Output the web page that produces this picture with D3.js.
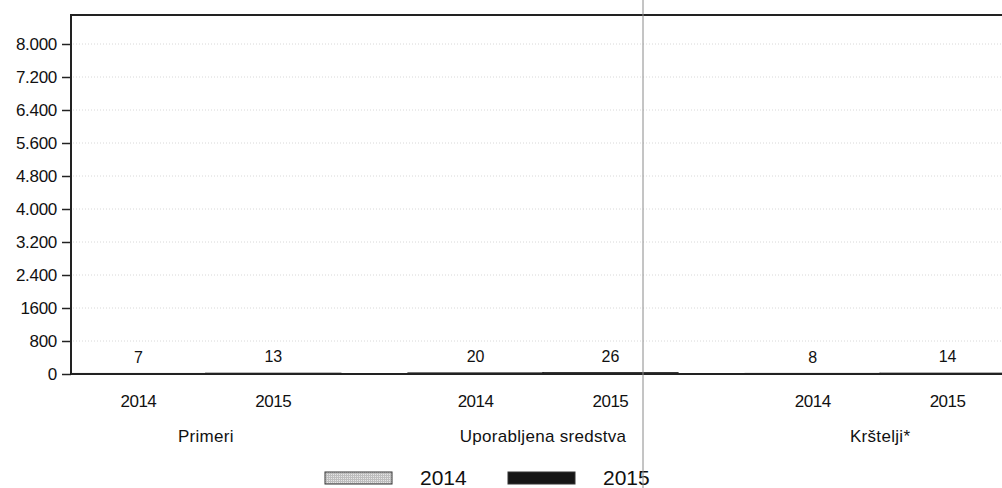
<!DOCTYPE html>
<html>
<head>
<meta charset="utf-8">
<script src="https://cdn.jsdelivr.net/npm/d3@7"></script>
<style>
  body { margin: 0; background: #fff; }
  svg { display: block; font-family: "Liberation Sans", Arial, sans-serif; }
</style>
</head>
<body>
<svg id="chart" width="1002" height="488"></svg>
<script>
// categories and series
const categories = ["Primeri", "Uporabljena sredstva", "Krštelji*"];
const years = ["2014", "2015"];
const values2014 = [7, 20, 8];
const values2015 = [13, 26, 14];

// y axis ticks as printed on the chart
const tickValues = [0, 800, 1600, 2400, 3200, 4000, 4800, 5600, 6400, 7200, 8000];
const tickLabels = ["0", "800", "1600", "2.400", "3.200", "4.000", "4.800", "5.600", "6.400", "7.200", "8.000"];

const colors = { "2014": "#c4c4c4", "2015": "#161616" };

const svg = d3.select("#chart");
const plotLeft = 71, plotTop = 15, plotBottom = 374, plotRight = 1015;

// stipple pattern for the 2014 swatch
const pat = svg.append("defs").append("pattern")
  .attr("id", "stip")
  .attr("width", 2).attr("height", 2)
  .attr("patternUnits", "userSpaceOnUse");
pat.append("rect").attr("width", 2).attr("height", 2).attr("fill", "#bdbdbd");
pat.append("rect").attr("width", 1).attr("height", 1).attr("fill", "#e6e6e6");

// rows for drawing
var rows = [];
categories.forEach(function (c, i) {
  rows.push({ cat: c, year: "2014", value: values2014[i] });
  rows.push({ cat: c, year: "2015", value: values2015[i] });
});

const y = d3.scaleLinear().domain([0, 8000]).range([plotBottom, 44]);
const x0 = d3.scaleBand().domain(categories).range([plotLeft, plotRight])
  .paddingInner(0.2).paddingOuter(0);
const x1 = d3.scaleBand().domain(years).range([0, x0.bandwidth()]);

// dotted grid lines
svg.append("g")
  .selectAll("line")
  .data(tickValues.slice(1))
  .join("line")
  .attr("x1", plotLeft + 2)
  .attr("x2", 1002)
  .attr("y1", d => y(d))
  .attr("y2", d => y(d))
  .attr("stroke", "#d8d8d8")
  .attr("stroke-width", 1)
  .attr("stroke-dasharray", "1,2");

// frame top line
svg.append("line")
  .attr("x1", plotLeft).attr("x2", 1002)
  .attr("y1", plotTop).attr("y2", plotTop)
  .attr("stroke", "#222").attr("stroke-width", 2);

// y axis
const yAxis = d3.axisLeft(y)
  .tickValues(tickValues)
  .tickFormat((d, i) => tickLabels[i])
  .tickSize(9)
  .tickPadding(5);

const ga = svg.append("g")
  .attr("transform", "translate(" + plotLeft + ",0)")
  .call(yAxis);
ga.select(".domain").remove();
ga.selectAll(".tick line").attr("stroke", "#222").attr("stroke-width", 1.5);
ga.selectAll(".tick text")
  .attr("fill", "#111")
  .style("font-size", "17px")
  .style("letter-spacing", "-0.3px")
  .style("font-family", "\"Liberation Sans\", Arial, sans-serif");

svg.append("line")
  .attr("x1", plotLeft).attr("x2", plotLeft)
  .attr("y1", plotTop - 1).attr("y2", plotBottom + 1)
  .attr("stroke", "#222").attr("stroke-width", 2);

// bars
svg.append("g")
  .selectAll("rect")
  .data(rows)
  .join("rect")
  .attr("x", d => x0(d.cat) + x1(d.year))
  .attr("width", x1.bandwidth())
  .attr("y", d => y(d.value))
  .attr("height", d => y(0) - y(d.value))
  .attr("fill", d => colors[d.year])
  .attr("stroke", "#111")
  .attr("stroke-width", 1.5);

// baseline
svg.append("line")
  .attr("x1", plotLeft).attr("x2", 1002)
  .attr("y1", plotBottom).attr("y2", plotBottom)
  .attr("stroke", "#222").attr("stroke-width", 2);

// value labels
svg.append("g")
  .selectAll("text")
  .data(rows)
  .join("text")
  .attr("x", d => x0(d.cat) + x1(d.year) + x1.bandwidth() / 2)
  .attr("y", d => y(d.value) - 11)
  .attr("text-anchor", "middle")
  .attr("fill", "#111")
  .style("font-size", "16px")
  .text(d => d.value);

// year labels under each bar
svg.append("g")
  .selectAll("text")
  .data(rows)
  .join("text")
  .attr("x", d => x0(d.cat) + x1(d.year) + x1.bandwidth() / 2)
  .attr("y", plotBottom + 33)
  .attr("text-anchor", "middle")
  .attr("fill", "#111")
  .style("font-size", "17px")
  .style("letter-spacing", "-0.5px")
  .text(d => d.year);

// category labels
svg.append("g")
  .selectAll("text")
  .data(categories)
  .join("text")
  .attr("x", d => x0(d) + x0.bandwidth() / 2)
  .attr("y", plotBottom + 68)
  .attr("text-anchor", "middle")
  .attr("fill", "#111")
  .style("font-size", "17px")
  .style("letter-spacing", "0.3px")
  .text(d => d);

// legend
const legend = svg.append("g")
  .selectAll("g")
  .data(years)
  .join("g")
  .attr("transform", (d, i) => "translate(" + (325 + i * 183) + ",472)");

legend.append("rect")
  .attr("width", 67)
  .attr("height", 12)
  .attr("fill", d => d === "2014" ? "url(#stip)" : colors[d])
  .attr("stroke", "#333")
  .attr("stroke-width", 1);

legend.append("text")
  .attr("x", 95)
  .attr("y", 13)
  .attr("fill", "#111")
  .style("font-size", "21px")
  .text(d => d);

// thin vertical scan line across the page
svg.append("line")
  .attr("x1", 643).attr("x2", 643)
  .attr("y1", 0).attr("y2", 488)
  .attr("stroke", "#8a8a8a")
  .attr("stroke-width", 1);
</script>
</body>
</html>
